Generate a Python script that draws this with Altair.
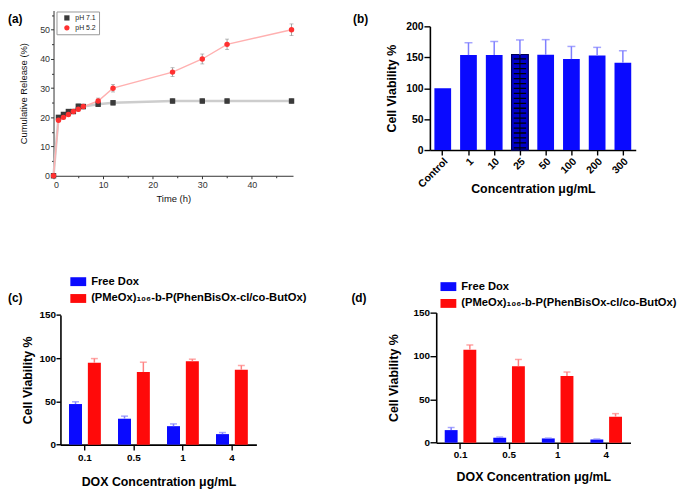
import altair as alt
import pandas as pd

FONT = "Liberation Sans"

# ---------------- (a) cumulative release ----------------
time_h = [0, 1, 2, 3, 4, 5, 6, 9, 12, 24, 30, 35, 48]
release_ph71 = [0, 20.0, 21.0, 22.0, 22.0, 23.8, 23.7, 24.5, 25.0, 25.6, 25.6, 25.6, 25.6]
error_ph71 = [0, 0.6, 0.6, 0.6, 0.5, 0.8, 0.8, 0.8, 0.8, 0.8, 0.8, 0.8, 0.8]
release_ph52 = [0, 19.0, 20.0, 21.0, 22.0, 22.8, 23.7, 25.6, 30.0, 35.5, 40.0, 45.0, 50.0]
error_ph52 = [0, 0.5, 0.6, 0.6, 0.5, 0.8, 0.6, 1.0, 1.3, 1.5, 1.7, 1.8, 2.0]
series_names = ["pH 7.1", "pH 5.2"]
major_x_a = [0, 10, 20, 30, 40]
minor_x_a = [5, 15, 25, 35, 45]
major_y_a = [0, 10, 20, 30, 40, 50]
minor_y_a = [5, 15, 25, 35, 45, 55]

# ---------------- (b) viability of polymer ----------------
conc_b = ["Control", "1", "10", "25", "50", "100", "200", "300"]
viability_b = [100, 153.5, 153.5, 154.5, 154, 147, 153, 141]
error_b = [0, 20, 22, 23.5, 24.5, 20.5, 13, 19.5]

# ---------------- (c), (d) DOX viability ----------------
dox_conc = ["0.1", "0.5", "1", "4"]
group_names = ["\u00a0Free Dox", "(PMeOx)₁₀₆-b-P(PhenBisOx-cl/co-ButOx)"]
c_free = [47.0, 30.0, 21.4, 12.2]
c_free_err = [2.6, 3.0, 2.6, 1.8]
c_poly = [94.7, 84.0, 96.6, 86.6]
c_poly_err = [4.9, 11.4, 2.3, 5.0]
d_free = [14.5, 5.7, 4.9, 3.8]
d_free_err = [3.0, 0.8, 0.4, 0.4]
d_poly = [107.3, 88.3, 76.9, 30.0]
d_poly_err = [5.4, 7.7, 4.6, 3.5]

# ---------------- tables ----------------
rows = []
for name, vals, errs in [(series_names[0], release_ph71, error_ph71),
                         (series_names[1], release_ph52, error_ph52)]:
    for t, v, e in zip(time_h, vals, errs):
        rows.append({"t": t, "series": name, "val": v, "lo": v - e, "hi": v + e})
df_a = pd.DataFrame(rows)

df_b = pd.DataFrame({"conc": conc_b, "v": viability_b,
                     "hi": [v + e for v, e in zip(viability_b, error_b)],
                     "err": error_b})


def group_df(free, free_err, poly, poly_err):
    r = []
    for i, c in enumerate(dox_conc):
        r.append({"conc": c, "group": group_names[0], "v": free[i], "hi": free[i] + free_err[i]})
        r.append({"conc": c, "group": group_names[1], "v": poly[i], "hi": poly[i] + poly_err[i]})
    return pd.DataFrame(r)


df_c = group_df(c_free, c_free_err, c_poly, c_poly_err)
df_d = group_df(d_free, d_free_err, d_poly, d_poly_err)


def label_layer(text, x, y):
    return alt.Chart(pd.DataFrame({"lab": [text]})).mark_text(
        align="left", baseline="middle", font=FONT, fontSize=12, fontWeight="bold", color="#000"
    ).encode(text="lab:N", x=alt.value(x), y=alt.value(y))


# ---------------- panel (a) ----------------
def axis_a(title, values, **kw):
    base = dict(title=title, values=values, grid=False, labelFont=FONT, labelFontSize=9,
                labelColor="#333", titleFont=FONT, titleFontSize=9.5, titleFontWeight="normal",
                titleColor="#111", domainColor="#333", tickColor="#333", tickSize=3)
    base.update(kw)
    return alt.Axis(**base)


W_A, H_A = 242, 167
scale_x_a = alt.Scale(domain=[0, 48.3], nice=False, zero=False)
scale_y_a = alt.Scale(domain=[0, 56.6], nice=False)
x_a = alt.X("t:Q", scale=scale_x_a,
            axis=axis_a("Time (h)", major_x_a, labelPadding=2, titlePadding=4, format="d"))


def y_a(field):
    return alt.Y(field, type="quantitative", scale=scale_y_a,
                 axis=axis_a("Cumulative Release (%)", major_y_a, labelPadding=1, titlePadding=11))


base_a = alt.Chart(df_a)
line71 = base_a.transform_filter(alt.datum.series == series_names[0]).mark_line(
    color="#cdcdcd", strokeWidth=2.5).encode(x=x_a, y=y_a("val"))
line52 = base_a.transform_filter(alt.datum.series == series_names[1]).mark_line(
    color="#ffb0b0", strokeWidth=1.4).encode(x=x_a, y=y_a("val"))
err_a = base_a.mark_rule(color="#8a8a8a", strokeWidth=0.8).encode(x=x_a, y=y_a("lo"), y2="hi")
cap_hi_a = base_a.mark_tick(orient="horizontal", size=4, thickness=0.8, color="#8a8a8a").encode(
    x=x_a, y=y_a("hi"))
cap_lo_a = base_a.mark_tick(orient="horizontal", size=4, thickness=0.8, color="#8a8a8a").encode(
    x=x_a, y=y_a("lo"))
legend_a = alt.Legend(orient="none", legendX=3, legendY=1, title=None, labelFont=FONT,
                      labelFontSize=7, labelColor="#222", symbolSize=28, symbolStrokeWidth=0,
                      strokeColor="#999", fillColor="#fff", padding=3, rowPadding=2,
                      labelOffset=5, symbolOffset=4)
pts_a = base_a.mark_point(filled=True, size=30, opacity=1).encode(
    x=x_a, y=y_a("val"),
    color=alt.Color("series:N", scale=alt.Scale(domain=series_names, range=["#3a3a3a", "#ff3030"]),
                    legend=legend_a),
    shape=alt.Shape("series:N", scale=alt.Scale(domain=series_names, range=["square", "circle"]),
                    legend=legend_a),
)
main_a = alt.layer(line71, line52, err_a, cap_hi_a, cap_lo_a, pts_a)
minor_a = base_a.mark_point(opacity=0).encode(
    x=alt.X("t:Q", scale=scale_x_a,
            axis=alt.Axis(orient="bottom", values=minor_x_a, labels=False, domain=False, title="",
                          tickSize=2, tickColor="#333", grid=False)),
    y=alt.Y("val:Q", scale=scale_y_a,
            axis=alt.Axis(orient="left", values=minor_y_a, labels=False, domain=False, title="",
                          tickSize=2, tickColor="#333", grid=False)),
)
panel_a = alt.layer(main_a, minor_a, label_layer("(a)", -46, 9)).resolve_axis(
    x="independent", y="independent").properties(width=W_A, height=H_A)


# ---------------- bold axes for (b)-(d) ----------------
def axis_bold(title, **kw):
    base = dict(title=title, grid=False, labelFont=FONT, labelFontWeight="bold", labelColor="#000",
                titleFont=FONT, titleFontWeight="bold", titleColor="#000", titleFontSize=12.5,
                domainColor="#000", tickColor="#000", domainWidth=1.6, tickWidth=1.4)
    base.update(kw)
    return alt.Axis(**base)


# ---------------- panel (b) ----------------
W_B, H_B, TOP_B = 208, 125, 16
x_b = alt.X("conc:N", sort=conc_b,
            scale=alt.Scale(domain=conc_b, paddingInner=0.35, paddingOuter=0.175),
            axis=axis_bold("Concentration μg/mL", labelAngle=315, labelAlign="right",
                           labelBaseline="top", labelFontSize=10.5, tickSize=5, labelPadding=1,
                           titleY=39, titleBaseline="middle"))


def y_b(field):
    return alt.Y(field, type="quantitative",
                 scale=alt.Scale(domain=[0, 200], nice=False, range=[TOP_B + H_B, TOP_B]),
                 axis=axis_bold("Cell Viability %", values=[0, 50, 100, 150, 200], labelFontSize=10.5,
                                tickSize=6, labelPadding=1, titlePadding=7))


base_b = alt.Chart(df_b)
bars_b = base_b.mark_bar(color="#0a0aff").encode(x=x_b, y=y_b("v"))
err_b_rule = base_b.transform_filter(alt.datum.err > 0).mark_rule(
    color="#7f7fff", strokeWidth=1.5).encode(x=x_b, y=y_b("v"), y2="hi")
err_b_cap = base_b.transform_filter(alt.datum.err > 0).mark_tick(
    orient="horizontal", size=8, thickness=1.5, color="#7f7fff").encode(x=x_b, y=y_b("hi"))

# hatched bar (25 µg/mL): dark bar, dashed wide rule = horizontal hatch lines, thin centre line
hatch_src = base_b.transform_filter(alt.datum.conc == "25")
hatch_bar = hatch_src.mark_bar(color="#0000c8", stroke="#000050", strokeWidth=1.2).encode(
    x=x_b, y=y_b("v"))
hatch_lines = hatch_src.mark_rule(color="#000", strokeWidth=12.5, strokeDash=[1.3, 3.7],
                                  strokeDashOffset=1.3, strokeCap="butt").encode(
    x=x_b, y=y_b("v"), y2=alt.datum(0))
hatch_mid = hatch_src.mark_rule(color="#000", strokeWidth=1).encode(
    x=x_b, y=y_b("v"), y2=alt.datum(0))

panel_b = alt.layer(bars_b, hatch_bar, hatch_lines, hatch_mid, err_b_rule, err_b_cap,
                    label_layer("(b)", -77.6, 9)).properties(width=W_B, height=TOP_B + H_B)

# ---------------- panels (c), (d) ----------------
RECT = "M-1,-0.56H1V0.56H-1Z"


def dox_panel(df, left, w, top, h, legend_x, legend_y, lab, lab_x, lab_y,
              tick, lpad, tpad_x, ytick, tpad_y):
    x_enc = alt.X("conc:N", sort=dox_conc,
                  scale=alt.Scale(domain=dox_conc, paddingInner=0.35, paddingOuter=0.175,
                                  range=[left, left + w]),
                  axis=axis_bold("DOX Concentration μg/mL", labelAngle=0, labelFontSize=10,
                                 tickSize=tick, labelPadding=lpad, titlePadding=tpad_x))
    xo = alt.XOffset("group:N", sort=group_names,
                     scale=alt.Scale(domain=group_names, paddingInner=0.31, paddingOuter=0))

    def y_enc(field):
        return alt.Y(field, type="quantitative",
                     scale=alt.Scale(domain=[0, 150], nice=False, range=[top + h, top]),
                     axis=axis_bold("Cell Viability %", values=[0, 50, 100, 150], labelFontSize=10,
                                    tickSize=ytick, labelPadding=0.5, titlePadding=tpad_y,
                                    offset=-left))

    base = alt.Chart(df)
    bars = base.mark_bar().encode(
        x=x_enc, xOffset=xo, y=y_enc("v"),
        color=alt.Color("group:N", sort=group_names,
                        scale=alt.Scale(domain=group_names, range=["#0a0aff", "#ff0a0a"]),
                        legend=alt.Legend(orient="none", legendX=legend_x, legendY=legend_y,
                                          title=None, symbolType=RECT, symbolSize=256,
                                          symbolStrokeWidth=0, labelFont=FONT,
                                          labelFontWeight="bold", labelFontSize=11.3,
                                          labelColor="#000", labelOffset=5, rowPadding=3,
                                          labelLimit=500, padding=0)))
    layers = [bars]
    for g, col in zip(group_names, ["#8080ff", "#ff8080"]):
        sub = base.transform_filter(alt.datum.group == g)
        layers.append(sub.mark_rule(color=col, strokeWidth=1.5).encode(
            x=x_enc, xOffset=xo, y=y_enc("v"), y2="hi"))
        layers.append(sub.mark_tick(orient="horizontal", size=7, thickness=1.5, color=col).encode(
            x=x_enc, xOffset=xo, y=y_enc("hi")))
    layers.append(label_layer(lab, lab_x, lab_y))
    return alt.layer(*layers).properties(width=left + w, height=top + h)


panel_c = dox_panel(df_c, 7, 198, 2.4, 131, 17, -39.3, "(c)", -46, -14.3,
                    5.5, 3, 13, 4.5, 5)
panel_d = dox_panel(df_d, 6.4, 196.3, 0, 131.4, 10.7, -34.3, "(d)", -79.3, -14.3,
                    6, 0.5, 12, 6.3, 13)

chart = alt.ConcatChart(
    concat=[panel_a, panel_b, panel_c, panel_d], columns=2, align="all", bounds="flush",
    spacing=138.3
).resolve_scale(
    color="independent", shape="independent", xOffset="independent"
).resolve_legend(
    color="independent", shape="independent"
).properties(padding=0).configure(font=FONT).configure_view(strokeWidth=0)

chart.save("out.html", embed_options={"renderer": "svg", "actions": False})
